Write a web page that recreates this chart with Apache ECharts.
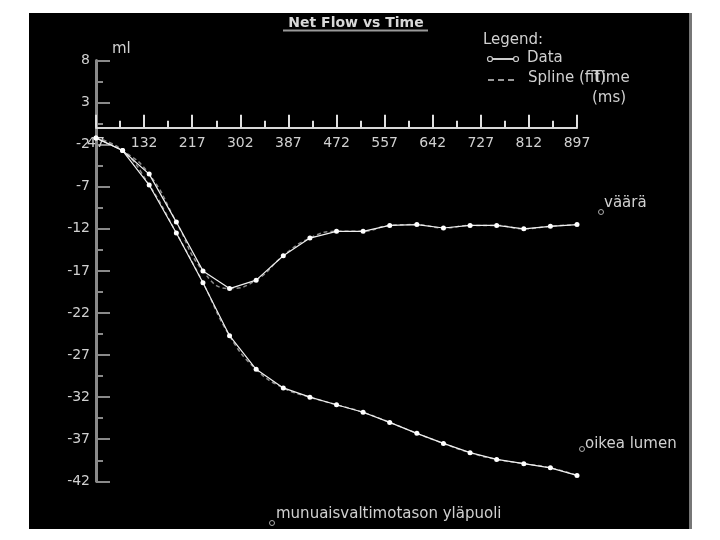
<!DOCTYPE html>
<html>
<head>
<meta charset="utf-8">
<script src="https://cdn.jsdelivr.net/npm/echarts@6/dist/echarts.min.js"></script>
<style>html,body{margin:0;padding:0;background:#fff;}#c{width:720px;height:540px;}</style>
</head>
<body>
<div id="c"></div>
<script>
const times = [47, 94, 141, 189, 236, 283, 330, 378, 425, 472, 519, 566, 614, 661, 708, 755, 803, 850, 897];
const vaara = [-1.2, -2.7, -5.5, -11.2, -17.0, -19.1, -18.1, -15.2, -13.1, -12.3, -12.3, -11.6, -11.5, -11.9, -11.6, -11.6, -12.0, -11.7, -11.5];
const oikea = [-1.2, -2.7, -6.8, -12.5, -18.4, -24.7, -28.7, -30.9, -32.0, -32.9, -33.8, -35.0, -36.3, -37.5, -38.6, -39.4, -39.9, -40.4, -41.3];
const xMin = 47, xMax = 897, xStep = 85;
const yMin = -42, yMax = 8, yStep = 5;
const titleText = 'Net Flow vs Time';
const yUnit = 'ml';
const xUnit = ['Time', '(ms)'];
const legendItems = ['Legend:', 'Data', 'Spline (fit)'];
const notes = ['väärä', 'oikea lumen', 'munuaisvaltimotason yläpuoli'];

const pairs = arr => times.map((t, i) => [t, arr[i]]);
const F = 'DejaVu Sans';
const txt = '#d0d0d0';
const gridTop = 60.5, gridBottom = 58.7, H = 540;
// x axis sits at y = 0 of the value axis: compute offset from the grid bottom
const plotH = H - gridTop - gridBottom;
const zeroOffset = plotH * (0 - yMin) / (yMax - yMin);

const chart = echarts.init(document.getElementById('c'), null, {renderer: 'canvas'});
function dataSeries(arr) {
  return [{
    type: 'line', data: pairs(arr), smooth: true, symbol: 'none', z: 2,
    lineStyle: {color: '#8a8a8a', width: 1.5, type: [4, 3]}, silent: true, animation: false
  }, {
    type: 'line', data: pairs(arr), symbol: 'circle', symbolSize: 5, z: 3,
    itemStyle: {color: '#ffffff'}, lineStyle: {color: '#f0f0f0', width: 1.2}, animation: false
  }];
}
chart.setOption({
  backgroundColor: '#ffffff',
  animation: false,
  grid: {left: 96, right: 143, top: gridTop, bottom: gridBottom, containLabel: false},
  xAxis: {
    type: 'value', min: xMin, max: xMax, interval: xStep, position: 'bottom', offset: -zeroOffset,
    axisLine: {onZero: false, lineStyle: {color: '#d8d8d8', width: 2}},
    axisTick: {inside: true, length: 13, lineStyle: {color: '#e0e0e0', width: 2}},
    minorTick: {show: true, splitNumber: 2, length: 7, lineStyle: {color: '#e0e0e0', width: 2}},
    splitLine: {show: false},
    axisLabel: {color: txt, fontFamily: F, fontSize: 14, margin: 9, hideOverlap: false, showMinLabel: true, showMaxLabel: true}
  },
  yAxis: {
    type: 'value', min: yMin, max: yMax, interval: yStep,
    axisLine: {onZero: false, lineStyle: {color: '#8a8a8a', width: 3}},
    axisTick: {inside: true, length: 14, lineStyle: {color: '#8a8a8a', width: 2}},
    minorTick: {show: true, splitNumber: 2, length: 7, lineStyle: {color: '#8a8a8a', width: 2}},
    splitLine: {show: false},
    axisLabel: {color: txt, fontFamily: F, fontSize: 14, margin: 6, hideOverlap: false}
  },
  series: [].concat(dataSeries(vaara), dataSeries(oikea)),
  graphic: [
    {type: 'rect', z: -100, silent: true, shape: {x: 29, y: 13, width: 660, height: 516}, style: {fill: '#000'}},
    {type: 'rect', z: -99, silent: true, shape: {x: 689, y: 13, width: 3, height: 516}, style: {fill: '#777'}},
    {type: 'text', x: 356, y: 23, style: {text: titleText, fill: '#d8d8d8', font: 'bold 14px "DejaVu Sans"', textAlign: 'center', textVerticalAlign: 'middle'}},
    {type: 'rect', shape: {x: 283, y: 29.5, width: 145, height: 2}, style: {fill: '#999'}},
    {type: 'text', x: 112, y: 49, style: {text: yUnit, fill: txt, font: '15px "DejaVu Sans"', textVerticalAlign: 'middle'}},
    {type: 'text', x: 483, y: 40, style: {text: legendItems[0], fill: txt, font: '15px "DejaVu Sans"', textVerticalAlign: 'middle'}},
    {type: 'line', shape: {x1: 490, y1: 59, x2: 516, y2: 59}, style: {stroke: '#ccc', lineWidth: 2}},
    {type: 'circle', shape: {cx: 490, cy: 59, r: 2.5}, style: {fill: '#000', stroke: '#ccc', lineWidth: 1.2}},
    {type: 'circle', shape: {cx: 516, cy: 59, r: 2.5}, style: {fill: '#000', stroke: '#ccc', lineWidth: 1.2}},
    {type: 'text', x: 527, y: 58, style: {text: legendItems[1], fill: txt, font: '15px "DejaVu Sans"', textVerticalAlign: 'middle'}},
    {type: 'line', shape: {x1: 488, y1: 80, x2: 517, y2: 80}, style: {stroke: '#ccc', lineWidth: 1.5, lineDash: [6, 4]}},
    {type: 'text', x: 528, y: 78, style: {text: legendItems[2], fill: txt, font: '15px "DejaVu Sans"', textVerticalAlign: 'middle'}},
    {type: 'text', x: 593, y: 78, style: {text: xUnit[0], fill: txt, font: '15px "DejaVu Sans"', textVerticalAlign: 'middle'}},
    {type: 'text', x: 592, y: 98, style: {text: xUnit[1], fill: txt, font: '15px "DejaVu Sans"', textVerticalAlign: 'middle'}},
    {type: 'circle', shape: {cx: 601, cy: 212, r: 2.5}, style: {fill: 'none', stroke: '#aaa', lineWidth: 1}},
    {type: 'text', x: 604, y: 203, style: {text: notes[0], fill: txt, font: '15px "DejaVu Sans"', textVerticalAlign: 'middle'}},
    {type: 'circle', shape: {cx: 582, cy: 449, r: 2.5}, style: {fill: 'none', stroke: '#aaa', lineWidth: 1}},
    {type: 'text', x: 585, y: 444, style: {text: notes[1], fill: txt, font: '15px "DejaVu Sans"', textVerticalAlign: 'middle'}},
    {type: 'circle', shape: {cx: 272, cy: 523, r: 2.5}, style: {fill: 'none', stroke: '#aaa', lineWidth: 1}},
    {type: 'text', x: 276, y: 514, style: {text: notes[2], fill: txt, font: '15px "DejaVu Sans"', textVerticalAlign: 'middle'}}
  ]
});
</script>
</body>
</html>
